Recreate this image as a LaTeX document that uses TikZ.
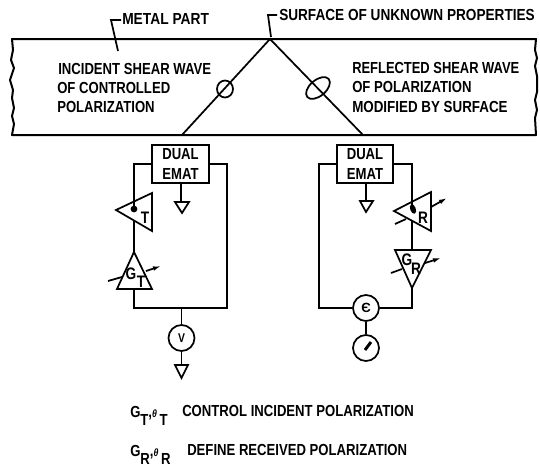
\documentclass[tikz,border=0pt]{standalone}
\usepackage{fontspec}
\setmainfont[FakeStretch=0.82]{Liberation Sans}
\newfontfamily\plainfont{Liberation Sans}
\usetikzlibrary{arrows.meta}
\newcommand{\sbt}[1]{\raisebox{-5.5pt}{#1}}
\newcommand{\thet}{\raisebox{0.5pt}{\fontsize{8}{8}\selectfont\itshape θ}}
\tikzset{
 wire/.style={line width=1.3pt,black},
 part/.style={line width=1.5pt,black},
 amp/.style={wire,fill=white},
 lbl/.style={font=\fontsize{12}{12}\selectfont\bfseries,inner sep=0,anchor=west,text=black},
 sym/.style={font=\fontsize{12.5}{12.5}\selectfont\bfseries,inner sep=0,text=black},
 knob/.style={wire,-{Latex[length=6pt,width=3.5pt]}},
 round1/.style={circle,draw,wire,fill=white,minimum size=19.5pt,inner sep=0},
 box1/.style={rectangle,draw,wire,fill=white,minimum width=42.5pt,minimum height=29pt,align=center,inner sep=0,font=\fontsize{12}{15.5}\selectfont\bfseries},
}
\begin{document}
\begin{tikzpicture}[x=0.75pt,y=-0.75pt]
\useasboundingbox (0,0) rectangle (540,469);
% metal part
\coordinate (apex) at (270,39);
\coordinate (lfoot) at (182,135);
\coordinate (rfoot) at (363,135);
\draw[part,line join=round] (12,39) -- (536,39) -- (535,50) -- (537,58) -- (535,66) -- (537,76) -- (537,92) -- (535,100) -- (537,110) -- (535,118) -- (536,135) -- (12,135) -- (14,124) -- (12,116) -- (14,108) -- (12,98) -- (13,90) -- (10,80) -- (14,68) -- (11,60) -- (13,50) -- cycle;
\node[lbl] (t1) at (58,69) {INCIDENT SHEAR WAVE};
\node[lbl] (t2) at (57,88) {OF CONTROLLED};
\node[lbl] (t3) at (57,107) {POLARIZATION};
\node[lbl] (t4) at (352,68) {\scalebox{0.985}[1]{REFLECTED SHEAR WAVE}};
\node[lbl] (t5) at (352,87) {OF POLARIZATION};
\node[lbl] (t6) at (352,107) {\scalebox{1.02}[1]{MODIFIED BY SURFACE}};
\node[lbl] (mp) at (122,19) {\scalebox{1.05}[1]{METAL PART}};
\node[lbl] (su) at (279,15) {\scalebox{1.037}[1]{SURFACE OF UNKNOWN PROPERTIES}};
\draw[wire] (apex) -- (lfoot);
\draw[wire] (apex) -- (rfoot);
\draw[wire] (225,89) ellipse [x radius=8,y radius=8.5];
\draw[wire,rotate around={40:(318,88)}] (318,88) ellipse [x radius=14,y radius=8];
\draw[wire] (121,20) -- (111,20) -- (118,51);
\draw[wire] (277,15) -- (268,15) -- (271,37);
% left chain
\node[box1] (de1) at (180.5,164) {DUAL\\EMAT};
\draw[wire] (134,219) -- (134,252);
\draw[amp] (116,210) -- (152,193) -- (152,231) -- cycle;
\draw[wire] (de1.west) -| (134,209);
\draw[wire] (de1.east) -| (227,308) -- (134,308) -- (134,289);
\draw[amp] (134,252) -- (152,289) -- (117,289) -- cycle;
\fill (134,209) circle (3.4);
\node[sym] (th1) at (145,218) {T};
\node[sym] (g1) at (131,274) {G};
\node[sym] (g1s) at (141,282) {T};
\draw[wire] (108,281) -- (122,277);
\draw[knob] (146,271) -- (161,266);
\node[round1] (v) at (181.5,338) {\bfseries\fontsize{9.5}{9.5}\selectfont V};
\draw[wire] (181.5,308) -- (v);
\coordinate (g1a) at (181.5,365);
\draw[wire] (v) -- (g1a);
\draw[wire] (175,365) -- (188,365) -- (181.5,378) -- cycle;
\draw[wire] (181,183) -- (181,202);
\draw[wire] (175,202) -- (189,202) -- (182,213) -- cycle;
% right chain
\node[box1] (de2) at (365,164) {DUAL\\EMAT};
\node[round1] (e) at (366,308) {\bfseries\fontsize{10}{10}\selectfont\plainfont Є};
\node[round1] (m) at (366,348) {};
\draw[wire] (e) -- (m);
\draw[wire,line width=2.2pt] (365,350) -- (371,342);
\draw[wire] (de2.west) -| (319,308) -- (e.west);
\draw[wire] (412,220) -- (412,250);
\draw[amp] (394,211) -- (431,192) -- (431,231) -- cycle;
\draw[wire] (de2.east) -| (412,209);
\draw[wire] (412,288) -- (412,308) -- (e.east);
\draw[amp] (395,250) -- (431,250) -- (412,288) -- cycle;
\fill[rotate around={20:(413,209)}] (413,209) ellipse [x radius=2.8,y radius=5];
\node[sym] (th2) at (423,218) {R};
\node[sym] (g2) at (407,260) {G};
\node[sym] (g2s) at (416,269) {R};
\draw[wire] (395,224) -- (406,219);
\draw[knob] (431,207) -- (447,198);
\draw[wire] (391,273) -- (402,269);
\draw[knob] (425,263) -- (441,258);
\draw[wire] (366,183) -- (366,201);
\draw[wire] (360,201) -- (373,201) -- (366,212) -- cycle;
% legend
\node[lbl] (k1) at (130,416) {G\sbt{T},\thet\,\sbt{T}};
\node[lbl] (k2) at (130,455) {G\sbt{R},\thet\,\sbt{R}};
\node[lbl] (k3) at (182,411) {CONTROL INCIDENT POLARIZATION};
\node[lbl] (k4) at (187,450) {DEFINE RECEIVED POLARIZATION};
\end{tikzpicture}
\end{document}
